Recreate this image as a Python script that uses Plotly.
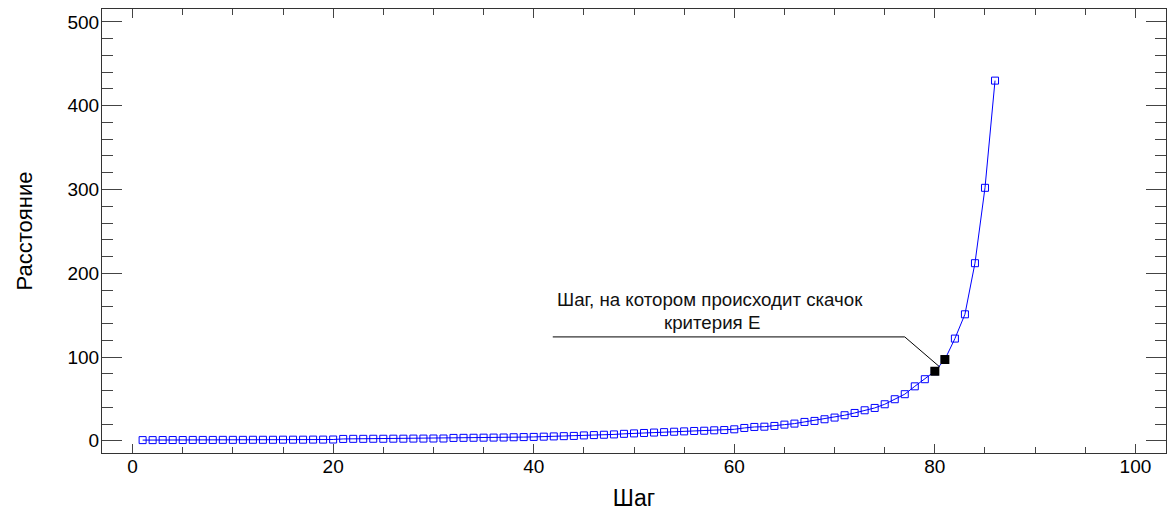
import plotly.graph_objects as go

steps = list(range(1, 87))
distance = [
    0.8, 0.8, 0.9, 0.9, 0.9, 1.0, 1.0, 1.0, 1.1, 1.1,
    1.1, 1.2, 1.2, 1.2, 1.3, 1.3, 1.3, 1.4, 1.4, 1.5,
    2.2, 2.3, 2.3, 2.4, 2.4, 2.5, 2.5, 2.6, 2.6, 2.7,
    2.7, 3.4, 3.5, 3.6, 3.7, 3.8, 3.9, 4.2, 4.4, 4.6,
    4.9, 5.2, 5.5, 5.8, 6.4, 6.8, 7.2, 7.6, 8.3, 8.8,
    9.3, 9.8, 10.3, 10.8, 11.2, 11.7, 12.0, 12.5, 12.8, 13.7,
    15.3, 16.5, 16.8, 17.7, 19.3, 20.5, 22.5, 23.7, 25.7, 27.7,
    30.5, 33.2, 36.4, 39.2, 43.6, 49.6, 55.6, 65.0, 73.5, 83.0,
    97.0, 122.0, 151.0, 212.0, 302.0, 430.0,
]
jump_steps = [80, 81]
jump_values = [distance[s - 1] for s in jump_steps]

x_title = "Шаг"
y_title = "Расстояние"
note_line1 = "Шаг, на котором происходит скачок"
note_line2 = "критерия E"

FONT = "Liberation Sans, Arial, sans-serif"

fig = go.Figure()
fig.add_trace(go.Scatter(
    x=steps, y=distance, mode="lines+markers",
    line=dict(color="#0000ff", width=1),
    marker=dict(symbol="square-open", size=7, color="#0000ff", line=dict(width=1)),
    showlegend=False,
))
fig.add_trace(go.Scatter(
    x=jump_steps, y=jump_values, mode="markers",
    marker=dict(symbol="square", size=9, color="#000000"),
    showlegend=False,
))

# annotation leader line
fig.add_shape(type="line", x0=41.9, y0=124, x1=77.0, y1=124,
              line=dict(color="#000000", width=1))
fig.add_shape(type="line", x0=77.0, y0=124, x1=80.5, y1=88,
              line=dict(color="#000000", width=1))

fig.add_annotation(x=57.6, y=169, text=note_line1, showarrow=False,
                   font=dict(family=FONT, size=18.7, color="#111111"))
fig.add_annotation(x=57.8, y=141, text=note_line2, showarrow=False,
                   font=dict(family=FONT, size=18.7, color="#111111"))

fig.update_layout(
    width=1168, height=517,
    margin=dict(l=102, r=2, t=9, b=64),
    paper_bgcolor="white", plot_bgcolor="white",
    font=dict(family=FONT, color="#000000"),
)
fig.update_xaxes(
    range=[-3.05, 103.05], tickvals=[0, 20, 40, 60, 80, 100],
    ticks="inside", ticklen=9, tickcolor="#444444", tickwidth=1,
    minor=dict(dtick=5, tick0=0, ticks="inside", ticklen=6, tickcolor="#444444"),
    showline=True, linecolor="#333333", linewidth=1, mirror="allticks",
    showgrid=False, zeroline=False, automargin=False,
    tickfont=dict(family=FONT, size=19),
    title=dict(text=x_title, font=dict(family=FONT, size=23), standoff=14),
    ticklabelstandoff=-4,
)
fig.update_yaxes(
    range=[-14.6, 515.5], tickvals=[0, 100, 200, 300, 400, 500],
    ticks="inside", ticklen=20, tickcolor="#444444", tickwidth=1,
    minor=dict(dtick=20, tick0=0, ticks="inside", ticklen=11, tickcolor="#444444"),
    showline=True, linecolor="#333333", linewidth=1, mirror="allticks",
    showgrid=False, zeroline=False, automargin=False,
    tickfont=dict(family=FONT, size=19),
    title=dict(text=y_title, font=dict(family=FONT, size=22), standoff=28),
    ticklabelstandoff=-2,
)

fig.write_html("out.html",
               config={"displayModeBar": False},
               post_script="document.body.style.margin='0';document.body.style.overflow='hidden';")
